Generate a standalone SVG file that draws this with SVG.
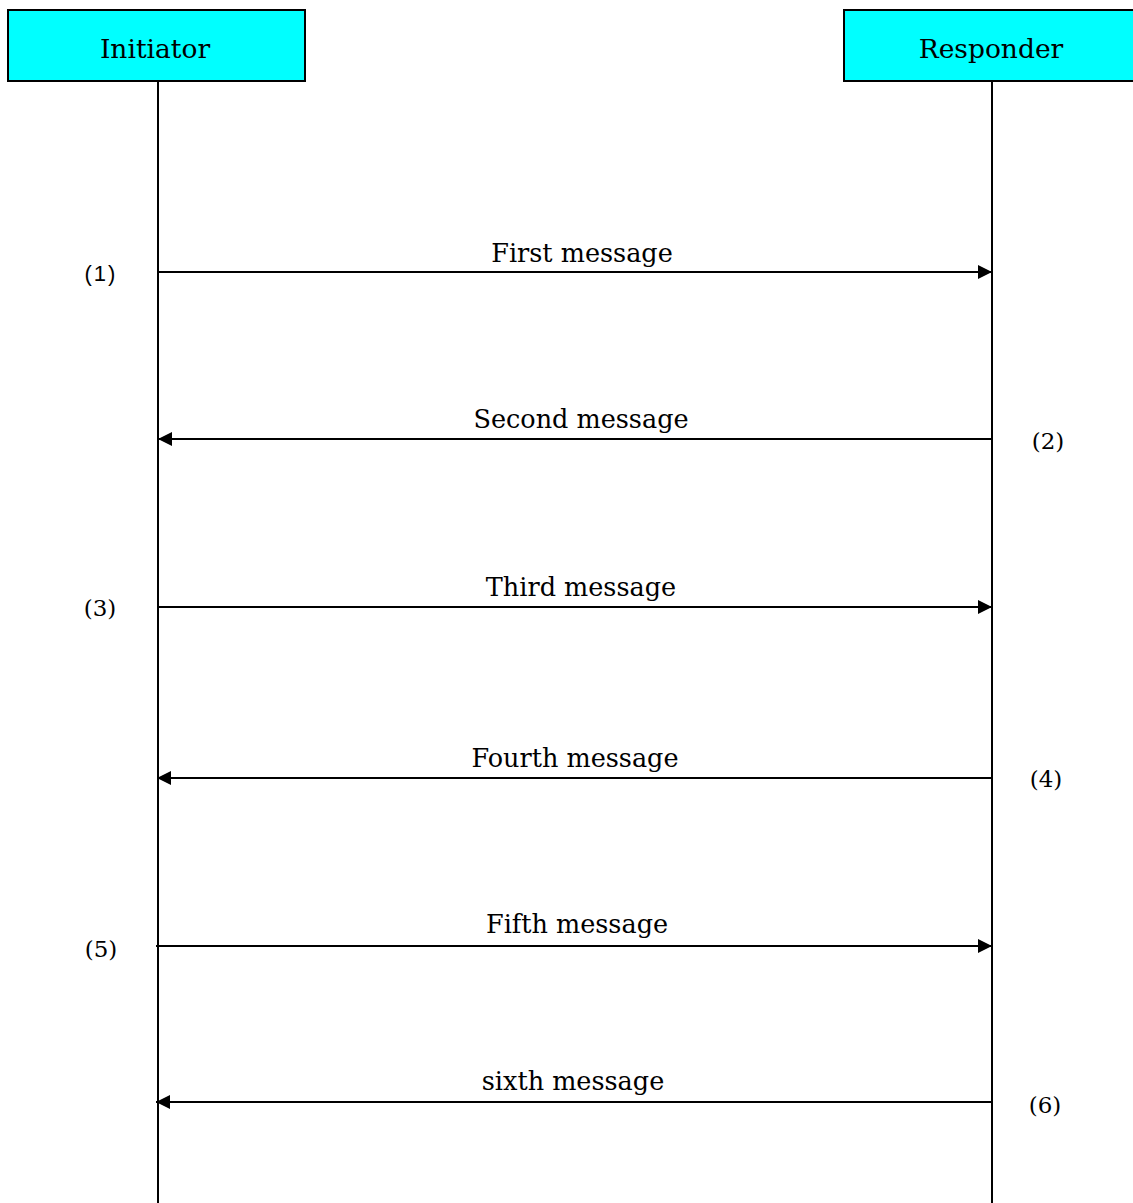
<svg xmlns="http://www.w3.org/2000/svg" width="1133" height="1203" viewBox="0 0 1133 1203">
<style>
.box{fill:#00ffff;stroke:#000;stroke-width:2}
.life{stroke:#000;stroke-width:2;fill:none}
.msg{stroke:#000;stroke-width:2;fill:none}
.t{font-family:"DejaVu Serif","Liberation Serif",serif;font-size:25.5px;fill:#000;text-anchor:middle}
.h{font-family:"DejaVu Serif","Liberation Serif",serif;font-size:26.5px;fill:#000;text-anchor:middle}
.n{font-family:"DejaVu Serif","Liberation Serif",serif;font-size:23px;fill:#000;text-anchor:middle}
.n1{font-family:"Liberation Sans","DejaVu Sans",sans-serif;font-size:22px;fill:#000;text-anchor:middle;letter-spacing:2px}
</style>
<defs>
<marker id="ah" viewBox="0 0 14 14" refX="14" refY="7" markerWidth="14" markerHeight="14" markerUnits="userSpaceOnUse" orient="auto">
<path d="M0,0 L14,7 L0,14 Z" fill="#000"/>
</marker>
</defs>
<rect width="1133" height="1203" fill="#fff"/>
<g id="initiator">
<rect class="box" x="8" y="10" width="297" height="71"/>
<text class="h" x="155" y="58">Initiator</text>
<line class="life" x1="158" y1="81" x2="158" y2="1203"/>
</g>
<g id="responder">
<rect class="box" x="844" y="10" width="300" height="71"/>
<text class="h" x="991" y="58">Responder</text>
<line class="life" x1="992" y1="81" x2="992" y2="1203"/>
</g>
<g id="connectors">
<line class="msg" x1="157" y1="272" x2="992" y2="272" marker-end="url(#ah)"/>
<line class="msg" x1="993" y1="439" x2="158" y2="439" marker-end="url(#ah)"/>
<line class="msg" x1="157" y1="607" x2="992" y2="607" marker-end="url(#ah)"/>
<line class="msg" x1="992" y1="778" x2="157" y2="778" marker-end="url(#ah)"/>
<line class="msg" x1="156" y1="946" x2="992" y2="946" marker-end="url(#ah)"/>
<line class="msg" x1="992" y1="1102" x2="156" y2="1102" marker-end="url(#ah)"/>
</g>
<g id="labels">
<text class="t" x="582" y="262">First message</text>
<text class="t" x="581" y="428">Second message</text>
<text class="t" x="581" y="596">Third message</text>
<text class="t" x="575" y="767">Fourth message</text>
<text class="t" x="577" y="933">Fifth message</text>
<text class="t" x="573" y="1090">sixth message</text>
<text class="n1" x="101" y="281">(1)</text>
<text class="n" x="1048" y="449">(2)</text>
<text class="n" x="100" y="616">(3)</text>
<text class="n" x="1046" y="787">(4)</text>
<text class="n" x="101" y="957">(5)</text>
<text class="n" x="1045" y="1113">(6)</text>
</g>
</svg>
